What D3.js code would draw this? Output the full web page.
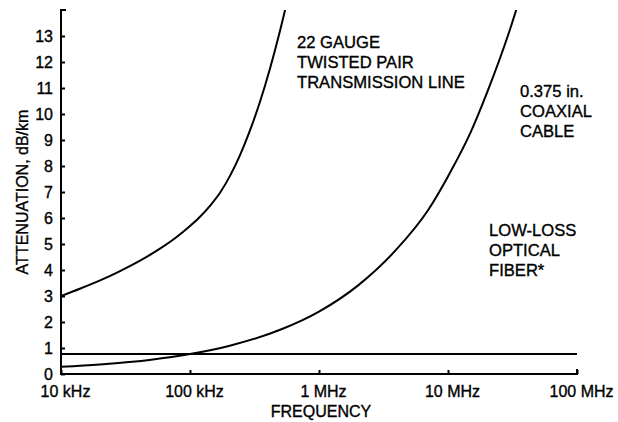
<!DOCTYPE html>
<html>
<head>
<meta charset="utf-8">
<script src="https://cdn.jsdelivr.net/npm/d3@7"></script>
<style>
  html, body { margin: 0; padding: 0; background: #fff; }
  svg { display: block; font-family: "Liberation Sans", Arial, Helvetica, sans-serif; }
  text { fill: #000; stroke: #000; stroke-width: 0.35px; }
</style>
</head>
<body>
<svg id="chart" width="618" height="422"></svg>
<script>
// ---- data ----
const tpFreq   = [10e3, 14e3, 20.1e3, 28.7e3, 41e3, 58.5e3, 76.5e3, 100e3, 119.6e3, 142.9e3, 170.9e3, 204.2e3, 244.2e3, 291.8e3, 348.8e3, 417.1e3, 498.6e3, 595.7e3];
const tpAtt    = [3.0,  3.28, 3.6,    3.96,   4.36, 4.82,   5.22,   5.69,  6.05,    6.47,    6.97,    7.62,    8.42,    9.37,    10.47,   11.75,   13.2,    14.8];
const coaxFreq = [10e3, 20e3, 50e3, 100e3, 200e3, 500e3, 1e6, 2e6, 4e6, 7e6, 10e6, 15e6, 20e6, 30e6, 40e6];
const coaxAtt  = [0.28, 0.37, 0.55, 0.77,  1.08,  1.7,   2.4, 3.4, 4.8, 6.3, 7.6,  9.3,  10.8, 13.2, 15.2];
const fiberFreq = [10e3, 100e6];
const fiberAtt  = [0.77, 0.77];
const xTickVals   = [10e3, 100e3, 1e6, 10e6, 100e6];
const xTickLabels = ["10 kHz", "100 kHz", "1 MHz", "10 MHz", "100 MHz"];
const yTickVals   = [0,1,2,3,4,5,6,7,8,9,10,11,12,13];
const yMax = 14;
const tpLabel    = ["22 GAUGE", "TWISTED PAIR", "TRANSMISSION LINE"];
const coaxLabel  = ["0.375 in.", "COAXIAL", "CABLE"];
const fiberLabel = ["LOW-LOSS", "OPTICAL", "FIBER*"];
const xTitle = "FREQUENCY";
const yTitle = "ATTENUATION, dB/km";

// ---- layout ----
const svg = d3.select("#chart");
const L = 61, R = 577, T = 10, B = 374;
const x = d3.scaleLog().domain([10e3, 100e6]).range([L, R]);
const y = d3.scaleLinear().domain([0, yMax]).range([B, T]);

svg.append("clipPath").attr("id", "plotclip")
  .append("rect").attr("x", L).attr("y", T).attr("width", R - L).attr("height", B - T);

// axes
const yAxis = d3.axisLeft(y).tickValues(yTickVals).tickSize(-4).tickPadding(8).tickFormat(d3.format("d"));
const gy = svg.append("g").attr("transform", `translate(${L},0)`).call(yAxis);
gy.select(".domain").remove();
gy.selectAll(".tick line").attr("stroke", "#000").attr("stroke-width", 2);
gy.selectAll(".tick text").attr("font-size", 16).attr("fill", "#000");

const xAxis = d3.axisBottom(x).tickValues(xTickVals).tickSize(-4).tickPadding(12)
  .tickFormat((d, i) => xTickLabels[i]);
const gx = svg.append("g").attr("transform", `translate(0,${B})`).call(xAxis);
gx.select(".domain").remove();
gx.selectAll(".tick line").attr("stroke", "#000").attr("stroke-width", 2);
gx.selectAll(".tick text").attr("font-size", 16).attr("fill", "#000").attr("dx", 4);

// axis frame (left and bottom, with small caps)
svg.append("path")
  .attr("d", `M${L + 5},${y(yMax)} H${L} V${B} H${R} V${B - 5}`)
  .attr("fill", "none").attr("stroke", "#000").attr("stroke-width", 2);

// curves
const line = d3.line().x(d => x(d[0])).y(d => y(d[1])).curve(d3.curveMonotoneX);
const plot = svg.append("g").attr("clip-path", "url(#plotclip)");
[[tpFreq, tpAtt], [coaxFreq, coaxAtt], [fiberFreq, fiberAtt]].forEach(([f, a]) => {
  plot.append("path").datum(d3.zip(f, a)).attr("d", line)
    .attr("fill", "none").attr("stroke", "#000").attr("stroke-width", 2);
});

// annotations
function block(lines, x0, y0) {
  const t = svg.append("text").attr("x", x0).attr("y", y0).attr("font-size", 16.6);
  lines.forEach((s, i) => t.append("tspan").attr("x", x0).attr("dy", i === 0 ? 0 : 20).text(s));
}
block(tpLabel, 297, 48);
block(coaxLabel, 520, 97);
block(fiberLabel, 489, 236);

// titles
svg.append("text").attr("x", (L + R) / 2 + 2).attr("y", 417).attr("text-anchor", "middle")
  .attr("font-size", 16).text(xTitle);
svg.append("text").attr("transform", `translate(28,${(T + B) / 2}) rotate(-90)`)
  .attr("text-anchor", "middle").attr("font-size", 16).text(yTitle);
</script>
</body>
</html>
